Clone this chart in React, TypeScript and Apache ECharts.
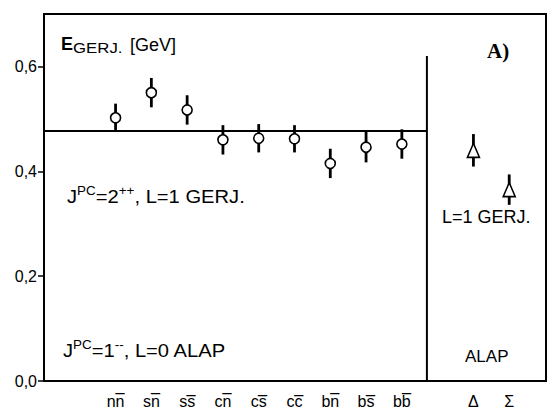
import React, { useEffect, useRef } from "react";
import * as echarts from "echarts";

// Meson (L=1 GERJ.) states
const mesonLabels = ["nn\u0305", "sn\u0305", "ss\u0305", "cn\u0305", "cs\u0305", "cc\u0305", "bn\u0305", "bs\u0305", "bb\u0305"];
const mesonPositions = [1, 2, 3, 4, 5, 6, 7, 8, 9];
const mesonValues = [0.502, 0.55, 0.517, 0.46, 0.463, 0.462, 0.415, 0.446, 0.452];
const mesonErrors = [0.027, 0.028, 0.028, 0.028, 0.027, 0.026, 0.028, 0.029, 0.028];

// Baryon (ALAP) states
const baryonLabels = ["\u0394", "\u03A3"];
const baryonPositions = [11, 12];
const baryonValues = [0.44, 0.365];
const baryonErrors = [0.031, 0.029];

// Reference level and panel divider
const gerjLevel = 0.477;
const dividerX = 9.7;
const dividerTop = 0.62;

const yTicks = [0, 0.2, 0.4, 0.6];

const FONT = "'Liberation Sans', Arial, sans-serif";

const GRID = { left: 44, right: 2, top: 14, bottom: 32 };
const W = 548;
const H = 413;

export default function App() {
  const ref = useRef<HTMLDivElement>(null);

  useEffect(() => {
    if (!ref.current) return;
    const chart = echarts.init(ref.current, null, { renderer: "svg" });

    const labelMap: Record<number, string> = {};
    mesonPositions.forEach((p, i) => (labelMap[p] = mesonLabels[i]));
    baryonPositions.forEach((p, i) => (labelMap[p] = baryonLabels[i]));

    const mesonData = mesonPositions.map((p, i) => [p, mesonValues[i], mesonErrors[i]]);
    const baryonData = baryonPositions.map((p, i) => [p, baryonValues[i], baryonErrors[i]]);

    const errorBar = (params: any, api: any) => {
      const x = api.value(0);
      const y = api.value(1);
      const e = api.value(2);
      const top = api.coord([x, y + e]);
      const bot = api.coord([x, y - e]);
      return {
        type: "line",
        shape: { x1: top[0], y1: top[1], x2: bot[0], y2: bot[1] },
        style: { stroke: "#000", lineWidth: 2.8 },
      };
    };

    const richBase = {
      m: { fontFamily: FONT, fontSize: 18, fill: "#000", lineHeight: 24, verticalAlign: "middle" },
      p: { fontFamily: FONT, fontSize: 12, fill: "#000", lineHeight: 12, verticalAlign: "top" },
    };

    const option: any = {
      animation: false,
      backgroundColor: "#fff",
      grid: { ...GRID, show: false, containLabel: false },
      xAxis: {
        type: "value",
        min: -1,
        max: 13,
        interval: 1,
        splitLine: { show: false },
        axisTick: { show: false },
        axisLine: { show: false, onZero: false },
        axisLabel: {
          color: "#000",
          fontFamily: FONT,
          fontSize: 16,
          margin: 12,
          showMinLabel: true,
          showMaxLabel: true,
          formatter: (v: number) => labelMap[v] ?? "",
        },
      },
      yAxis: {
        type: "value",
        min: 0,
        max: 0.7,
        interval: 0.2,
        splitLine: { show: false },
        axisLine: { show: false, onZero: false },
        axisTick: { show: true, inside: false, length: 6, lineStyle: { color: "#000", width: 1.5 } },
        axisLabel: {
          color: "#000",
          fontFamily: FONT,
          fontSize: 16,
          margin: 7,
          showMaxLabel: false,
          formatter: (v: number) =>
            yTicks.some((t) => Math.abs(t - v) < 1e-9) ? v.toFixed(1).replace(".", ",") : "",
        },
      },
      series: [
        {
          type: "line",
          data: [
            [-1, gerjLevel],
            [dividerX, gerjLevel],
          ],
          symbol: "none",
          lineStyle: { color: "#000", width: 2 },
          silent: true,
        },
        {
          type: "line",
          data: [
            [dividerX, 0],
            [dividerX, dividerTop],
          ],
          symbol: "none",
          lineStyle: { color: "#000", width: 2 },
          silent: true,
        },
        {
          type: "custom",
          renderItem: errorBar,
          data: mesonData,
          encode: { x: 0, y: 1 },
          z: 3,
        },
        {
          type: "custom",
          renderItem: errorBar,
          data: baryonData,
          encode: { x: 0, y: 1 },
          z: 3,
        },
        {
          type: "scatter",
          data: mesonData.map((d) => [d[0], d[1]]),
          symbol: "circle",
          symbolSize: 10,
          itemStyle: { color: "#fff", borderColor: "#000", borderWidth: 1.6, opacity: 1 },
          z: 5,
        },
        {
          type: "scatter",
          data: baryonData.map((d) => [d[0], d[1]]),
          symbol: "triangle",
          symbolSize: [12, 14],
          itemStyle: { color: "#fff", borderColor: "#000", borderWidth: 1.6, opacity: 1 },
          z: 5,
        },
      ],
      graphic: [
        {
          type: "rect",
          silent: true,
          z: 10,
          shape: {
            x: GRID.left,
            y: GRID.top,
            width: W - GRID.left - GRID.right,
            height: H - GRID.top - GRID.bottom,
          },
          style: { fill: "none", stroke: "#000", lineWidth: 2 },
        },
        {
          type: "text",
          x: 61,
          y: 44,
          style: {
            text: "E",
            fill: "#000",
            fontFamily: FONT,
            fontSize: 18,
            fontWeight: "bold",
            verticalAlign: "middle",
          },
        },
        {
          type: "text",
          x: 73,
          y: 48.5,
          scaleX: 1.2,
          style: {
            text: "GERJ.",
            fill: "#000",
            fontFamily: FONT,
            fontSize: 14,
            verticalAlign: "middle",
          },
        },
        {
          type: "text",
          x: 130,
          y: 45,
          style: {
            text: "[GeV]",
            fill: "#000",
            fontFamily: FONT,
            fontSize: 18,
            verticalAlign: "middle",
          },
        },
        {
          type: "text",
          x: 487,
          y: 40,
          style: {
            text: "A)",
            fill: "#000",
            fontFamily: "'Liberation Serif', 'Times New Roman', serif",
            fontSize: 21,
            fontWeight: "bold",
          },
        },
        {
          type: "text",
          x: 67,
          y: 185,
          scaleX: 1.12,
          style: {
            text: "{m|J}{p|PC}{m|=2}{p|++}{m|, L=1 GERJ.}",
            fill: "#000",
            rich: richBase,
          },
        },
        {
          type: "text",
          x: 442,
          y: 208,
          style: {
            text: "L=1 GERJ.",
            fill: "#000",
            fontFamily: FONT,
            fontSize: 18,
          },
        },
        {
          type: "text",
          x: 63,
          y: 339,
          scaleX: 1.12,
          style: {
            text: "{m|J}{p|PC}{m|=1}{p|--}{m|, L=0 ALAP}",
            fill: "#000",
            rich: richBase,
          },
        },
        {
          type: "text",
          x: 465,
          y: 348,
          style: {
            text: "ALAP",
            fill: "#000",
            fontFamily: FONT,
            fontSize: 17,
          },
        },
      ],
    };

    chart.setOption(option);
    return () => chart.dispose();
  }, []);

  return (
    <div
      ref={ref}
      style={{ position: "absolute", left: 0, top: 0, width: W, height: H, background: "#fff" }}
    />
  );
}
